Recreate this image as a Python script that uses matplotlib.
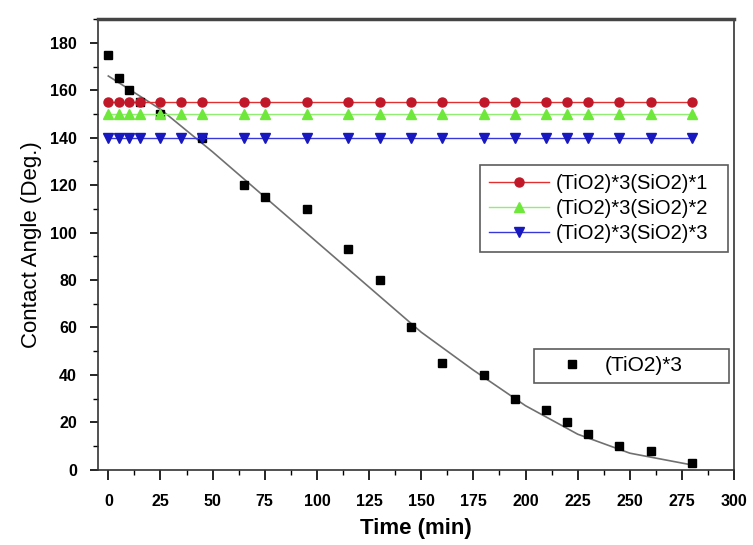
import numpy as np
import matplotlib
matplotlib.use("Agg")
import matplotlib.pyplot as plt
from matplotlib.ticker import MultipleLocator, FormatStrFormatter

plt.rcParams['font.family'] = ['Liberation Sans', 'DejaVu Sans']

# Sampling times (min) for the coated samples
t = [0, 5, 10, 15, 25, 35, 45, 65, 75, 95, 115, 130,
     145, 160, 180, 195, 210, 220, 230, 245, 260, 280]

# Contact angles (deg) for coated samples
si1 = [155] * len(t)
si2 = [150] * len(t)
si3 = [140] * len(t)

# Bare (TiO2)*3 sample
t_bare = [0, 5, 10, 15, 25, 45, 65, 75, 95, 115, 130,
          145, 160, 180, 195, 210, 220, 230, 245, 260, 280]
tio2 = [175, 165, 160, 155, 150, 140, 120, 115, 110, 93, 80,
        60, 45, 40, 30, 25, 20, 15, 10, 8, 3]

# Fitted curve
fit_t = [0, 25, 50, 75, 100, 125, 150, 175, 200, 225, 250, 280]
fit_y = [166, 152, 134, 115, 96, 77, 58, 42, 27, 15, 7, 2]

fig = plt.figure(figsize=(7.53, 5.45), dpi=100)
ax = fig.add_axes([0.130, 0.138, 0.845, 0.827])

ax.plot(fit_t, fit_y, color='#707070', lw=1.2, zorder=2)
sq, = ax.plot(t_bare, tio2, 's', color='black', ms=6, ls='none', zorder=3)

l1, = ax.plot(t, si1, '-o', color='#e03030', mfc='#c01828', mec='#c01828',
              ms=6.5, lw=1, zorder=4)
l2, = ax.plot(t, si2, '-^', color='#90ee70', mfc='#6ee83a', mec='#6ee83a',
              ms=7, lw=1, zorder=4)
l3, = ax.plot(t, si3, '-v', color='#3838d8', mfc='#1818c0', mec='#1818c0',
              ms=7, lw=1, zorder=4)

ax.set_xlim(-5, 300)
ax.set_ylim(0, 190)
ax.xaxis.set_major_locator(MultipleLocator(25))
ax.xaxis.set_minor_locator(MultipleLocator(12.5))
ax.yaxis.set_major_locator(MultipleLocator(20))
ax.yaxis.set_minor_locator(MultipleLocator(10))
ax.yaxis.set_major_formatter(FormatStrFormatter('%d'))
ax.tick_params(which='both', direction='out', top=False, right=False)
ax.tick_params(axis='x', which='major', length=7.2, width=1.2,
               labelsize=11.5, pad=10)
ax.tick_params(axis='y', which='major', length=6, width=1.2,
               labelsize=11.5, pad=9)
ax.tick_params(which='minor', length=3.5, width=1)
for lab in ax.get_xticklabels() + ax.get_yticklabels():
    lab.set_fontweight('bold')

for side in ['left', 'right', 'bottom']:
    ax.spines[side].set_linewidth(1.2)
    ax.spines[side].set_color('#333333')
ax.spines['top'].set_linewidth(2.5)
ax.spines['top'].set_color('#444444')

ax.set_xlabel('Time (min)', fontsize=16, fontweight='bold', labelpad=7)
ax.set_ylabel('Contact Angle (Deg.)', fontsize=16, labelpad=6)

leg1 = ax.legend([l1, l2, l3],
                 ['(TiO2)*3(SiO2)*1', '(TiO2)*3(SiO2)*2', '(TiO2)*3(SiO2)*3'],
                 loc='upper left', bbox_to_anchor=(0.60, 0.676, 0.39, 0.0),
                 mode='expand', fontsize=14.5, frameon=True, fancybox=False,
                 edgecolor='#333333', handlelength=3.0, borderpad=0.45,
                 labelspacing=0.3, handletextpad=0.35, borderaxespad=0)
leg1.get_frame().set_linewidth(1.2)
ax.add_artist(leg1)

leg2 = ax.legend([sq], ['(TiO2)*3'], loc='upper left',
                 bbox_to_anchor=(0.686, 0.268, 0.306, 0.0), mode='expand',
                 fontsize=15, frameon=True, fancybox=False,
                 edgecolor='#333333', handlelength=2.9, borderpad=0.35,
                 handletextpad=0.15, borderaxespad=0)
leg2.get_frame().set_linewidth(1.2)

plt.savefig('out.png', dpi=100)
